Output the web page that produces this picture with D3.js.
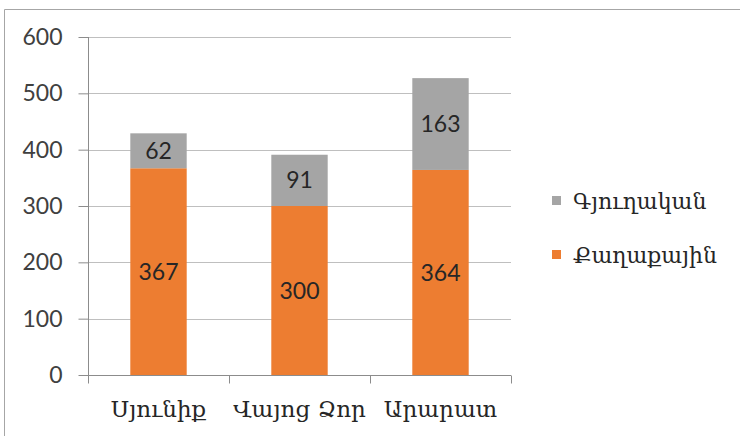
<!DOCTYPE html>
<html><head><meta charset="utf-8">
<script src="https://cdn.jsdelivr.net/npm/d3@7"></script>
<style>html,body{margin:0;padding:0;background:#fff;}svg{display:block;}</style>
</head><body>
<svg id="c" width="740" height="436"></svg>
<script>
const categories = ["Սյունիք", "Վայոց Ձոր", "Արարատ"];
const urban = [367, 300, 364];     // Քաղաքային
const rural = [62, 91, 163];       // Գյուղական
const seriesNames = ["Քաղաքային", "Գյուղական"];
const seriesColors = ["#ED7D31", "#A5A5A5"];
const yTicks = [0, 100, 200, 300, 400, 500, 600];

const svg = d3.select("#c");
const armFont = "'DejaVu Serif', 'DejaVu Sans', serif";
const numFont = "Lato, 'Open Sans', sans-serif";

// frame
svg.append("path").attr("d", "M4.5,436 L4.5,9.5 L740,9.5")
  .attr("fill", "none").attr("stroke", "#a6a6a6").attr("stroke-width", 1);

const x = d3.scaleBand().domain(categories).range([88, 511]).paddingInner(0.6).paddingOuter(0.3);
const y = d3.scaleLinear().domain([0, 600]).range([375, 37]);

// gridlines
svg.append("g").selectAll("line").data(yTicks.filter(d => d > 0)).join("line")
  .attr("x1", 88).attr("x2", 511)
  .attr("y1", d => Math.round(y(d)) + 0.5).attr("y2", d => Math.round(y(d)) + 0.5)
  .attr("stroke", "#bfbfbf");

// stacked data
const rows = categories.map((c, i) => ({cat: c, urban: urban[i], rural: rural[i]}));
const stack = d3.stack().keys(["urban", "rural"])(rows);

const g = svg.append("g");
stack.forEach((layer, li) => {
  g.append("g").selectAll("rect").data(layer).join("rect")
    .attr("x", d => x(d.data.cat))
    .attr("width", x.bandwidth())
    .attr("y", d => y(d[1]))
    .attr("height", d => y(d[0]) - y(d[1]))
    .attr("fill", seriesColors[li]);
  g.append("g").selectAll("text").data(layer).join("text")
    .attr("x", d => x(d.data.cat) + x.bandwidth() / 2)
    .attr("y", d => (y(d[0]) + y(d[1])) / 2)
    .attr("dy", "0.35em")
    .attr("text-anchor", "middle")
    .attr("font-family", numFont).attr("font-size", 23)
    .attr("fill", "#262626")
    .text(d => d[1] - d[0]);
});

// y axis
const ya = d3.axisLeft(y).tickValues(yTicks).tickSize(10).tickPadding(16);
const yg = svg.append("g").attr("transform", "translate(88.5,0)").call(ya);
yg.select(".domain").attr("stroke", "#8c8c8c").attr("d", "M0," + y(600) + "V" + (y(0)));
yg.selectAll(".tick line").attr("stroke", "#8c8c8c");
yg.selectAll(".tick text").attr("font-family", numFont).attr("font-size", 23).attr("fill", "#404040");

// x axis
const xa = d3.axisBottom(x).tickSize(0).tickPadding(25);
const xg = svg.append("g").attr("transform", "translate(0," + (y(0) + 0.5) + ")").call(xa);
xg.select(".domain").attr("stroke", "#8c8c8c").attr("d", "M88,0H511");
xg.selectAll(".tick text").attr("font-family", armFont).attr("font-size", 23).attr("fill", "#262626");
const bounds = [0, 1, 2, 3].map(i => 88 + i * x.step());
xg.selectAll(".bnd").data(bounds).join("line").attr("class", "bnd")
  .attr("x1", d => Math.round(d) + 0.5).attr("x2", d => Math.round(d) + 0.5)
  .attr("y1", 0).attr("y2", 8).attr("stroke", "#8c8c8c");

// legend
const legendItems = [{name: seriesNames[1], color: seriesColors[1]}, {name: seriesNames[0], color: seriesColors[0]}];
const lg = svg.append("g").selectAll("g").data(legendItems).join("g")
  .attr("transform", (d, i) => "translate(552," + (201 + i * 54) + ")");
lg.append("rect").attr("x", 0).attr("y", -5).attr("width", 9).attr("height", 9).attr("fill", d => d.color);
lg.append("text").attr("x", 21).attr("y", 0).attr("dy", "0.35em")
  .attr("font-family", armFont).attr("font-size", 22).attr("fill", "#262626")
  .text(d => d.name);
</script>
</body></html>
